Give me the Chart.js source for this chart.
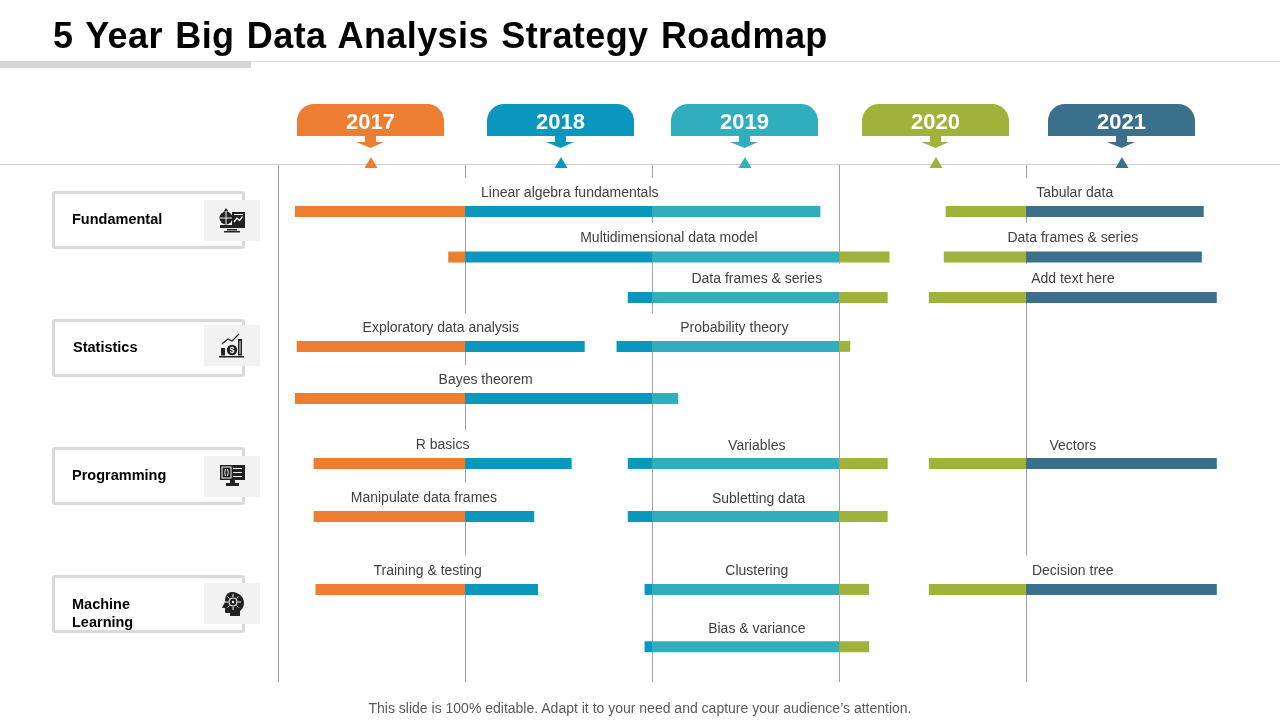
<!DOCTYPE html>
<html>
<head>
<meta charset="utf-8">
<title>5 Year Big Data Analysis Strategy Roadmap</title>
<script src="https://cdn.jsdelivr.net/npm/chart.js@4"></script>
<style>
  html, body { margin: 0; padding: 0; background: #fff; }
  body { width: 1280px; height: 720px; overflow: hidden; position: relative; font-family: "Liberation Sans", Arial, sans-serif; }
  #plan { position: absolute; left: 0; top: 0; }
  .abs { position: absolute; }
  #title { left: 53px; top: 15px; font-size: 36px; line-height: 42px; font-weight: bold; color: #000; white-space: nowrap; letter-spacing: 0.4px; word-spacing: 2px; }
  #rule { left: 0; top: 61px; width: 1280px; height: 1px; background: #d9d9d9; }
  #ruleThick { left: 0; top: 61px; width: 251px; height: 7px; background: #d4d4d4; }
  #headLine { left: 0; top: 164px; width: 1280px; height: 1px; background: #cfcfcf; }
  #footer { left: 0; top: 699px; width: 1280px; text-align: center; font-size: 14px; line-height: 18px; color: #595959; }
  .callout { top: 104px; width: 147px; height: 32px; border-radius: 17px 17px 0 0; color: #fff; font-size: 22px; font-weight: bold; line-height: 36px; text-align: center; }
  .side { left: 52px; width: 187px; height: 52px; border: 3px solid #d9d9d9; border-radius: 3px; background: #fff; }
  .sideText { left: 72px; font-size: 14.5px; font-weight: bold; line-height: 18px; color: #000; white-space: nowrap; }
  .iconBox { left: 204px; width: 56px; height: 41px; background: #f2f2f2; }
</style>
</head>
<body>
<canvas id="plan" width="1280" height="720"></canvas>
<div class="abs" id="title">5 Year Big Data Analysis Strategy Roadmap</div>
<div class="abs" id="rule"></div>
<div class="abs" id="ruleThick"></div>
<div class="abs" id="footer">This slide is 100% editable. Adapt it to your need and capture your audience’s attention.</div>
<div class="abs" id="headLine"></div>
<script>
// years across the top
const years = ["2017", "2018", "2019", "2020", "2021"];
const yearColors = ["#ED7D31", "#0A97BD", "#30AEBE", "#A0B239", "#3B708D"];
const gridYears = [2017, 2018, 2019, 2020, 2021];

// groups on the left
const groups = ["Fundamental", "Statistics", "Programming", "Machine\nLearning"];

// tasks
const taskNames = [
  "Linear algebra fundamentals", "Tabular data",
  "Multidimensional data model", "Data frames & series",
  "Data frames & series", "Add text here",
  "Exploratory data analysis", "Probability theory",
  "Bayes theorem",
  "R basics", "Variables", "Vectors",
  "Manipulate data frames", "Subletting data",
  "Training & testing", "Clustering", "Decision tree",
  "Bias & variance"
];
const taskRows = [
  0, 0,
  0.97, 0.97,
  1.83, 1.83,
  2.87, 2.87,
  3.98,
  5.36, 5.36, 5.36,
  6.49, 6.49,
  8.04, 8.04, 8.04,
  9.26
];
const taskStarts = [
  2017.09, 2020.57,
  2017.91, 2020.56,
  2018.87, 2020.48,
  2017.10, 2018.81,
  2017.09,
  2017.19, 2018.87, 2020.48,
  2017.19, 2018.87,
  2017.20, 2018.96, 2020.48,
  2018.96
];
const taskEnds = [
  2019.90, 2021.95,
  2020.27, 2021.94,
  2020.26, 2022.02,
  2018.64, 2020.06,
  2019.14,
  2018.57, 2020.26, 2022.02,
  2018.37, 2020.26,
  2018.39, 2020.16, 2022.02,
  2020.16
];
// where each task's caption sits
const labelYears = [
  2018.56, 2021.26,
  2019.09, 2021.25,
  2019.56, 2021.25,
  2017.87, 2019.44,
  2018.11,
  2017.88, 2019.56, 2021.25,
  2017.78, 2019.57,
  2017.80, 2019.56, 2021.25,
  2019.56
];
const labelRows = [
  -0.42, -0.42,
  0.54, 0.54,
  1.41, 1.41,
  2.46, 2.46,
  3.56,
  4.95, 4.97, 4.97,
  6.07, 6.10,
  7.62, 7.64, 7.62,
  8.86
];

// page furniture, in pixels
const calloutLeft = [297, 487, 671, 862, 1048];
const triangleX = [371, 561, 745, 936, 1122];
const sideTop = [191, 319, 447, 575];
const iconTop = [200, 325, 456, 583];
const sideTextTop = [210, 338, 466, 595];
const sideTextLeft = [72, 73, 72, 72];

// svg icons for the group boxes, 26x26
const icons = [
  '<circle cx="7" cy="10" r="6.5"/><path d="M7 0l2.500 3.500H4.500z"/><rect x="6.500" y="3" width="1" height="13" fill="#f2f2f2"/><rect x="1" y="9.500" width="12" height="1" fill="#f2f2f2"/><path d="M13 4h13v16H1v-3h12z"/><path d="M15 14l3-4 2.500 2.500 3-4" fill="none" stroke="#f2f2f2" stroke-width="1.4"/><rect x="15" y="6" width="9" height="1" fill="#f2f2f2"/><rect x="8" y="21" width="10" height="1.500"/><rect x="5" y="23" width="16" height="1.500"/>',
  '<rect x="2" y="15" width="4" height="7.500"/><rect x="19" y="6" width="4" height="16.500"/><rect x="20.500" y="8" width="1" height="13" fill="#f2f2f2"/><rect x="0" y="23" width="25" height="1.500"/><circle cx="13" cy="17" r="5.200"/><text x="13" y="20" font-size="8.500" font-weight="bold" fill="#f2f2f2" text-anchor="middle">$</text><path d="M3 11l6-5 4 2 7-7" fill="none" stroke="#222" stroke-width="1.100"/>',
  '<path d="M1 1h25v15H1z"/><rect x="3" y="3" width="9" height="11" fill="none" stroke="#f2f2f2" stroke-width="1"/><path d="M6.500 5q-1.500 3.500 0 7M8.500 5q1.500 3.500 0 7" fill="none" stroke="#f2f2f2" stroke-width="1"/><path d="M14 4.500h9M14 8.500h9M14 12.500h9" stroke="#f2f2f2" stroke-width="1"/><rect x="11" y="16" width="5" height="3"/><rect x="7" y="19" width="13" height="3"/>',
  '<path d="M13 1c7 0 12 5 12 11 0 4-2 6-4 8v5H11v-3H7c-1 0-1-1-1-2v-3H3l3-6C6 5 8 1 13 1z"/><circle cx="14" cy="11" r="4" fill="none" stroke="#f2f2f2" stroke-width="1.200"/><circle cx="14" cy="11" r="1.200" fill="#f2f2f2"/><path d="M14 3v3M14 16v3M6 11h3M19 11h3M8.500 5.500l2 2M19.500 5.500l-2 2M8.500 16.500l2-2M19.500 16.500l-2-2" stroke="#f2f2f2" stroke-width="1"/>'
];

// build the page furniture
function addDiv(cls, css, text) {
  const d = document.createElement("div");
  d.className = "abs " + cls;
  d.style.cssText = css;
  if (text) d.innerText = text;
  document.body.appendChild(d);
  return d;
}
function addSvg(x, y, w, h, inner) {
  const wrap = document.createElement("div");
  wrap.className = "abs";
  wrap.style.cssText = "left:" + x + "px;top:" + y + "px;width:" + w + "px;height:" + h + "px;";
  wrap.innerHTML = '<svg xmlns="http://www.w3.org/2000/svg" width="' + w + '" height="' + h + '" viewBox="0 0 ' + w + ' ' + h + '" style="display:block">' + inner + "</svg>";
  document.body.appendChild(wrap);
}
years.forEach((y, i) => {
  addDiv("callout", "left:" + calloutLeft[i] + "px;background:" + yearColors[i] + ";", y);
  addSvg(calloutLeft[i] + 58, 136, 31, 12,
    '<path d="M10 0h11v6h8l-13.500 6L1 6h9z" fill="' + yearColors[i] + '"/>');
  addSvg(triangleX[i] - 7, 157, 14, 11, '<path d="M7 0l6.500 11H.5z" fill="' + yearColors[i] + '"/>');
});
groups.forEach((g, i) => {
  addDiv("side", "top:" + sideTop[i] + "px;");
  addDiv("iconBox", "top:" + iconTop[i] + "px;");
  addDiv("sideText", "left:" + sideTextLeft[i] + "px;top:" + sideTextTop[i] + "px;", g);
  addSvg(219, iconTop[i] + 8, 26, 26, '<g fill="#222" font-family="Liberation Sans">' + icons[i] + "</g>");
});

// one dataset per year, each task cut at the year boundaries (last year runs on)
const yearDatasets = years.map((y, i) => {
  const from = Number(y);
  const to = i === years.length - 1 ? Infinity : from + 1;
  const data = [];
  taskNames.forEach((name, t) => {
    const a = Math.max(taskStarts[t], from);
    const b = Math.min(taskEnds[t], to);
    if (b > a) data.push({ x: [a, b], y: taskRows[t] });
  });
  return {
    label: y,
    data: data,
    backgroundColor: yearColors[i],
    borderWidth: 0,
    borderSkipped: false,
    maxBarThickness: 11,
    grouped: false
  };
});

// white boxes behind captions hide the grid, then the captions go on top
const captionFont = "14px 'Liberation Sans'";
const wideBox = { "Probability theory": 30 };
const captionPlugin = {
  id: "captions",
  beforeDatasetsDraw(chart) {
    const ctx = chart.ctx;
    ctx.save();
    ctx.font = captionFont;
    ctx.fillStyle = "#fff";
    taskNames.forEach((name, i) => {
      const x = chart.scales.x.getPixelForValue(labelYears[i]);
      const y = chart.scales.y.getPixelForValue(labelRows[i]);
      const pad = wideBox[name] || 18;
      const w = ctx.measureText(name).width;
      ctx.fillRect(x - w / 2 - pad, y - 14, w + pad * 2, 28);
    });
    ctx.restore();
  },
  afterDatasetsDraw(chart) {
    const ctx = chart.ctx;
    ctx.save();
    ctx.font = captionFont;
    ctx.fillStyle = "#404040";
    ctx.textAlign = "center";
    ctx.textBaseline = "middle";
    taskNames.forEach((name, i) => {
      ctx.fillText(name,
        chart.scales.x.getPixelForValue(labelYears[i]),
        chart.scales.y.getPixelForValue(labelRows[i]) + 1);
    });
    ctx.restore();
  }
};

const roadmap = new Chart(document.getElementById("plan"), {
  type: "bar",
  data: { datasets: yearDatasets },
  plugins: [captionPlugin],
  options: {
    indexAxis: "y",
    responsive: false,
    animation: false,
    layout: { padding: { left: 0, right: 0, top: 164, bottom: 38 } },
    plugins: { legend: { display: false }, tooltip: { enabled: false }, title: { display: false } },
    scales: {
      x: {
        type: "linear",
        min: 2015.513,
        max: 2022.358,
        afterBuildTicks: (axis) => {
          axis.ticks = gridYears.map((v) => ({ value: v }));
        },
        ticks: { display: false },
        border: { display: false },
        grid: { color: "#a3a3a3", lineWidth: 1, drawTicks: false }
      },
      y: {
        type: "linear",
        display: false,
        offset: false,
        reverse: true,
        min: -1.01,
        max: 10.01
      }
    }
  }
});
</script>
</body>
</html>
